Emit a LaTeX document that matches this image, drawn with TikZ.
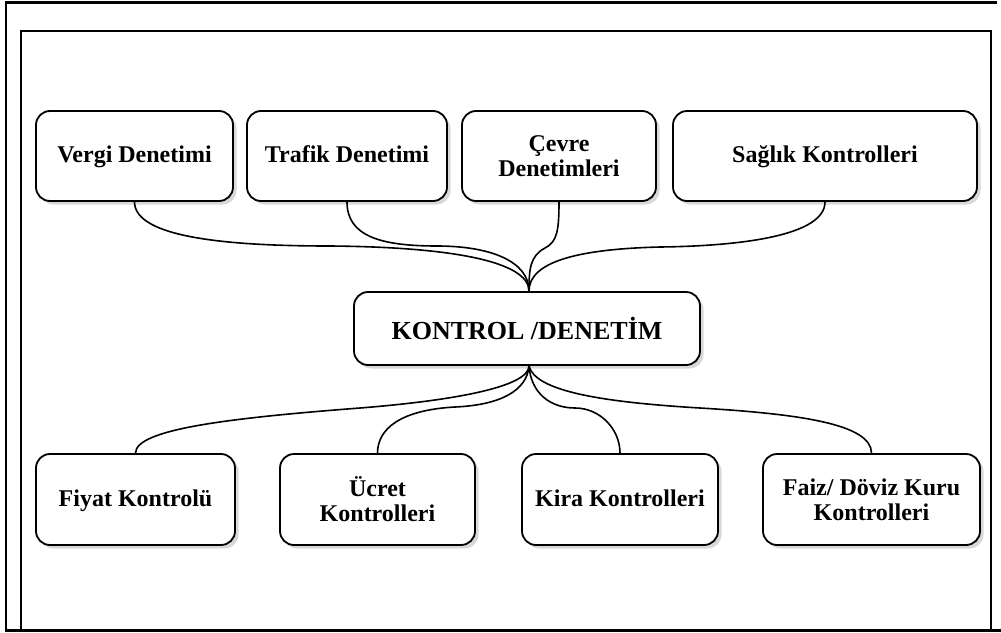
\documentclass[tikz,border=0pt]{standalone}
\usepackage{fontspec}
\setmainfont{Liberation Serif}
\usetikzlibrary{shadows}
\begin{document}
\begin{tikzpicture}[x=1pt,y=-1pt,
  box/.style={draw=black, line width=1.8pt, rounded corners=14pt, fill=white,
    drop shadow={shadow xshift=3.5pt, shadow yshift=-3.5pt, fill=black!30},
    inner sep=0pt, align=center,
    font=\fontsize{24}{25}\selectfont\bfseries},
  oneline/.style={text height=17pt, text depth=4pt},
  link/.style={draw=black, line width=1.6pt},
  frame/.style={draw=black, line width=2pt}
]
\useasboundingbox (0,0) rectangle (1001,632);
% frames
\draw[frame, line width=2.6pt] (997,2.5) -- (6,2.5) -- (6,630.5) -- (1001,630.5);
\draw[frame] (21,31) rectangle (991,631);
% top row
\node[box, oneline, minimum width=197pt, minimum height=90pt] (v) at (134.5,156) {Vergi Denetimi};
\node[box, oneline, minimum width=200pt, minimum height=90pt] (t) at (347,156) {Trafik Denetimi};
\node[box, minimum width=194pt, minimum height=90pt] (c) at (559,156) {Çevre\\Denetimleri};
\node[box, oneline, minimum width=304pt, minimum height=90pt] (s) at (825,156) {Sağlık Kontrolleri};
% center
\node[box, minimum width=346pt, minimum height=73pt, font=\fontsize{26}{28}\selectfont\bfseries] (k) at (527,328.5) {KONTROL /DENETİM};
\coordinate (ktop) at ([xshift=2pt]k.north);
\coordinate (kbot) at ([xshift=2pt]k.south);
% bottom row
\node[box, oneline, minimum width=199pt, minimum height=91pt] (f) at (135.5,499.5) {Fiyat Kontrolü};
\node[box, minimum width=195pt, minimum height=91pt] (u) at (377.5,499.5) {Ücret\\Kontrolleri};
\node[box, oneline, minimum width=196pt, minimum height=91pt] (kr) at (620,499.5) {Kira Kontrolleri};
\node[box, minimum width=217pt, minimum height=91pt] (fz) at (871.5,499.5) {Faiz/ Döviz Kuru\\Kontrolleri};
% bend points of the connectors
\coordinate (mv) at (330,246);
\coordinate (mt) at (437,246);
\coordinate (mc) at (545,248);
\coordinate (ms) at (660,247);
\coordinate (mf) at (360,408);
\coordinate (mu) at (455,407);
\coordinate (mk) at (575,408);
\coordinate (mz) at (700,408);
% top connectors
\draw[link] (v.south) .. controls +(0,36) and +(-100,0) .. (mv) .. controls +(120,1) and +(0,-30) .. (ktop);
\draw[link] (t.south) .. controls +(0,34) and +(-57,0) .. (mt) .. controls +(53,0) and +(0,-30) .. (ktop);
\draw[link] (c.south) .. controls +(0,29) and +(12,-6) .. (mc) .. controls +(-15,8) and +(0,-22) .. (ktop);
\draw[link] (s.south) .. controls +(0,34) and +(80,-1) .. (ms) .. controls +(-80,2) and +(0,-30) .. (ktop);
% bottom connectors
\draw[link] (kbot) .. controls +(0,20) and +(100,-8) .. (mf) .. controls +(-130,10) and +(0,-24) .. (f.north);
\draw[link] (kbot) .. controls +(-2,25) and +(45,-2) .. (mu) .. controls +(-55,3) and +(0,-24) .. (u.north);
\draw[link] (kbot) .. controls +(2,27) and +(-25,0) .. (mk) .. controls +(25,0) and +(0,-24) .. (kr.north);
\draw[link] (kbot) .. controls +(6,25) and +(-100,-6) .. (mz) .. controls +(100,6) and +(0,-29) .. (fz.north);
\end{tikzpicture}
\end{document}
